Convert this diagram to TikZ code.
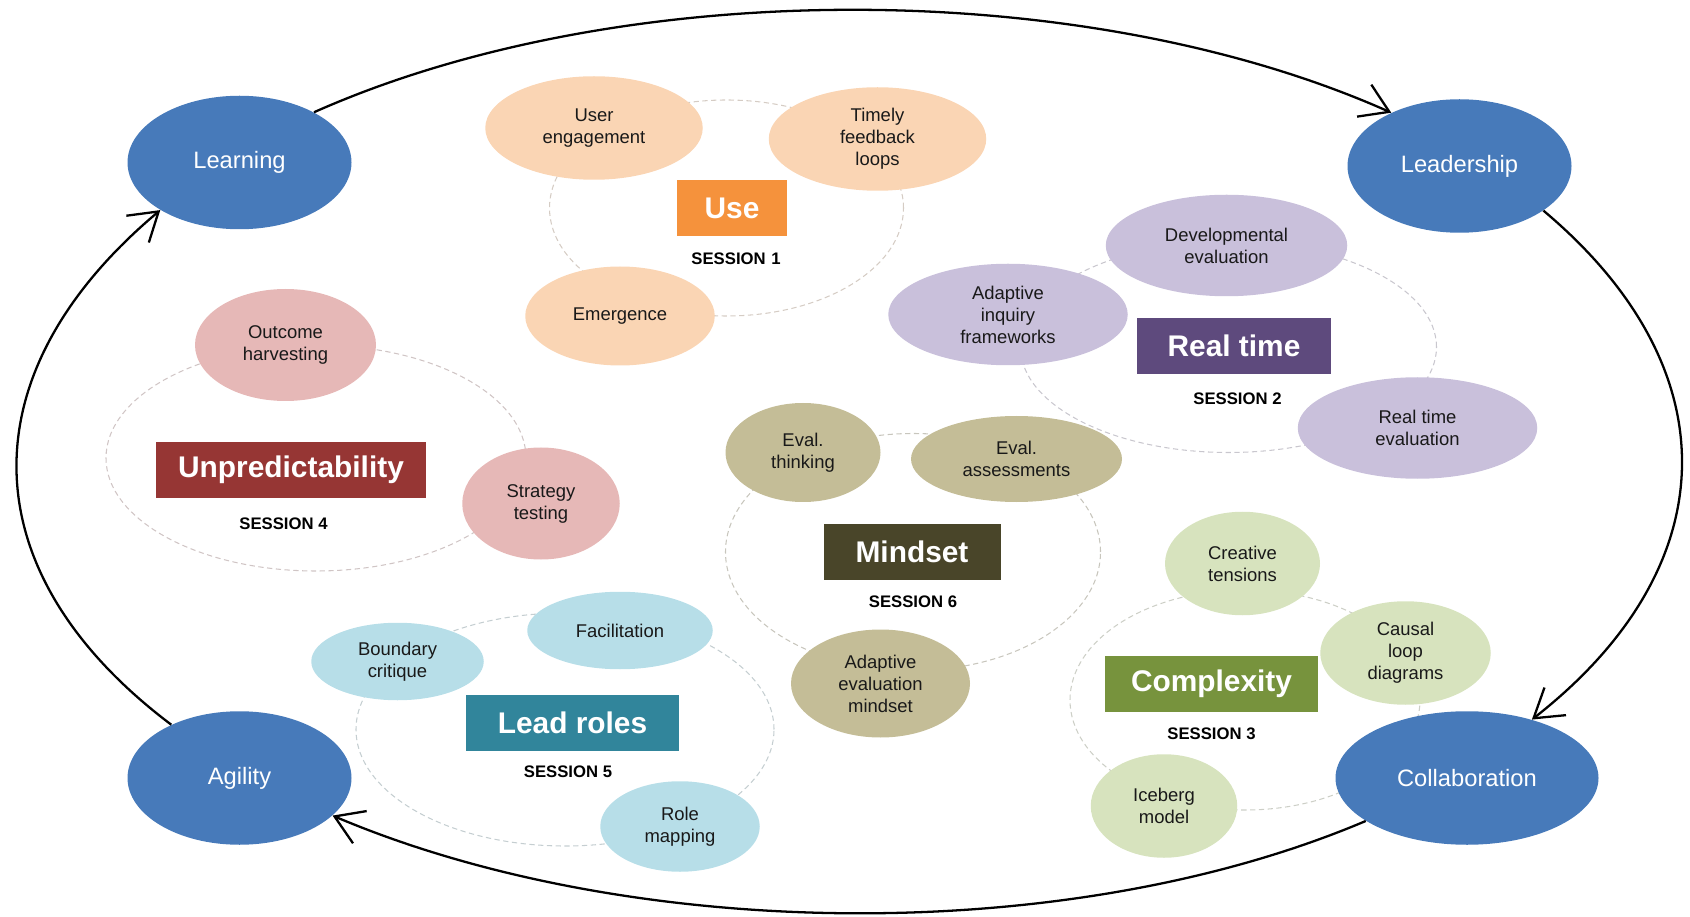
\documentclass[tikz,border=0pt]{standalone}
\usepackage{fontspec}
\setmainfont{Liberation Sans}
\usetikzlibrary{shapes.geometric,arrows.meta}

\definecolor{hubblue}{RGB}{71,122,186}
\definecolor{peach}{RGB}{250,213,180}
\definecolor{useorange}{RGB}{245,146,60}
\definecolor{lavender}{RGB}{201,192,219}
\definecolor{rtpurple}{RGB}{94,74,125}
\definecolor{sage}{RGB}{215,227,190}
\definecolor{cxgreen}{RGB}{119,147,61}
\definecolor{rose}{RGB}{230,184,183}
\definecolor{unred}{RGB}{150,54,52}
\definecolor{skyblue}{RGB}{183,222,232}
\definecolor{lrteal}{RGB}{49,133,155}
\definecolor{khaki}{RGB}{196,189,151}
\definecolor{mdolive}{RGB}{73,69,41}

\tikzset{
  hub/.style={ellipse, fill=hubblue, text=white, inner sep=0pt,
    font=\fontsize{13.5}{16}\selectfont, minimum width=4.48cm, minimum height=2.67cm},
  idea/.style={ellipse, fill=#1, text=black!90, align=center, inner sep=0pt,
    font=\fontsize{10.5}{12.5}\selectfont},
  theme/.style={fill=#1, text=white, inner sep=0pt, minimum height=1.12cm,
    font=\fontsize{17}{20}\selectfont\bfseries},
  session/.style={font=\fontsize{9.5}{11}\selectfont\bfseries},
  ring/.style={draw=#1!60!black!40, dash pattern=on 3pt off 2pt, line width=0.6pt},
  loopline/.style={line width=1.3pt, -{Straight Barb[length=5.5mm,width=7mm]}}
}

\begin{document}
\begin{tikzpicture}
\useasboundingbox (0,0) rectangle (33.8,18.32);

% dashed rings of the sessions
\draw[ring=peach] (14.53,14.16) ellipse [x radius=3.54, y radius=2.16];
\draw[ring=lavender] (24.57,11.38) ellipse [x radius=4.16, y radius=2.11];
\draw[ring=sage] (24.90,4.32) ellipse [x radius=3.50, y radius=2.20];
\draw[ring=rose] (6.32,9.16) ellipse [x radius=4.20, y radius=2.26];
\draw[ring=skyblue] (11.30,3.73) ellipse [x radius=4.18, y radius=2.33];
\draw[ring=khaki] (18.26,7.28) ellipse [x radius=3.75, y radius=2.37];

% the four hubs
\node[hub] (learn) at (4.79,15.07) {Learning};
\node[hub] (lead) at (29.19,15.00) {Leadership};
\node[hub, minimum width=5.26cm] (collab) at (29.34,2.76) {Collaboration};
\node[hub] (agil) at (4.79,2.76) {Agility};

% session 1
\node[idea=peach, minimum width=4.35cm, minimum height=2.07cm] (usereng) at (11.88,15.76) {User\\engagement};
\node[idea=peach, minimum width=4.35cm, minimum height=2.07cm] (timely) at (17.55,15.54) {Timely\\feedback\\loops};
\node[idea=peach, minimum width=3.79cm, minimum height=1.98cm] (emerg) at (12.40,12.00) {Emergence};
\node[theme=useorange, minimum width=2.20cm] (usebox) at (14.64,14.16) {Use};
\node[session] (s1) at (14.72,13.15) {SESSION\,\,1};

% session 2
\node[idea=lavender, minimum width=4.83cm, minimum height=2.03cm] (develop) at (24.53,13.41) {Developmental\\evaluation};
\node[idea=lavender, minimum width=4.79cm, minimum height=2.03cm] (inquiry) at (20.16,12.03) {Adaptive\\inquiry\\frameworks};
\node[idea=lavender, minimum width=4.79cm, minimum height=2.03cm] (rteval) at (28.35,9.76) {Real time\\evaluation};
\node[theme=rtpurple, minimum width=3.88cm] (rtbox) at (24.68,11.40) {Real time};
\node[session] (s2) at (24.75,10.34) {SESSION 2};

% session 3
\node[idea=sage, minimum width=3.10cm, minimum height=2.07cm] (creative) at (24.85,7.05) {Creative\\tensions};
\node[idea=sage, minimum width=3.41cm, minimum height=2.07cm] (causal) at (28.11,5.26) {Causal\\loop\\diagrams};
\node[idea=sage, minimum width=2.93cm, minimum height=2.07cm] (iceberg) at (23.28,2.20) {Iceberg\\model};
\node[theme=cxgreen, minimum width=4.27cm] (cxbox) at (24.23,4.65) {Complexity};
\node[session] (s3) at (24.23,3.64) {SESSION 3};

% session 4
\node[idea=rose, minimum width=3.62cm, minimum height=2.24cm] (outcome) at (5.71,11.42) {Outcome\\harvesting};
\node[idea=rose, minimum width=3.15cm, minimum height=2.24cm] (strategy) at (10.82,8.25) {Strategy\\testing};
\node[theme=unred, minimum width=5.39cm] (unbox) at (5.82,8.92) {Unpredictability};
\node[session] (s4) at (5.67,7.84) {SESSION 4};

% session 5
\node[idea=skyblue, minimum width=3.45cm, minimum height=1.55cm] (boundary) at (7.95,5.09) {Boundary\\critique};
\node[idea=skyblue, minimum width=3.71cm, minimum height=1.55cm] (facil) at (12.40,5.71) {Facilitation};
\node[idea=skyblue, minimum width=3.19cm, minimum height=1.81cm] (rolemap) at (13.60,1.79) {Role\\mapping};
\node[theme=lrteal, minimum width=4.27cm] (lrbox) at (11.45,3.86) {Lead roles};
\node[session] (s5) at (11.36,2.89) {SESSION 5};

% session 6
\node[idea=khaki, minimum width=3.10cm, minimum height=1.98cm] (evthink) at (16.06,9.27) {Eval.\\thinking};
\node[idea=khaki, minimum width=4.22cm, minimum height=1.72cm] (evassess) at (20.33,9.14) {Eval.\\assessments};
\node[idea=khaki, minimum width=3.58cm, minimum height=2.16cm] (evmind) at (17.61,4.65) {Adaptive\\evaluation\\mindset};
\node[theme=mdolive, minimum width=3.54cm] (mdbox) at (18.24,7.28) {Mindset};
\node[session] (s6) at (18.26,6.29) {SESSION 6};

% the cycle round the hubs
\draw[loopline] (learn.34) to[out=24, in=156, looseness=0.8] (lead.142);
\draw[loopline] (lead.-28) to[out=-40, in=38, looseness=1.24] (collab.42);
\draw[loopline] (collab.203) to[out=203, in=-23, looseness=0.8] (agil.-22);
\draw[loopline] (agil.142) to[out=143, in=220, looseness=1.26] (learn.211);
\end{tikzpicture}
\end{document}
